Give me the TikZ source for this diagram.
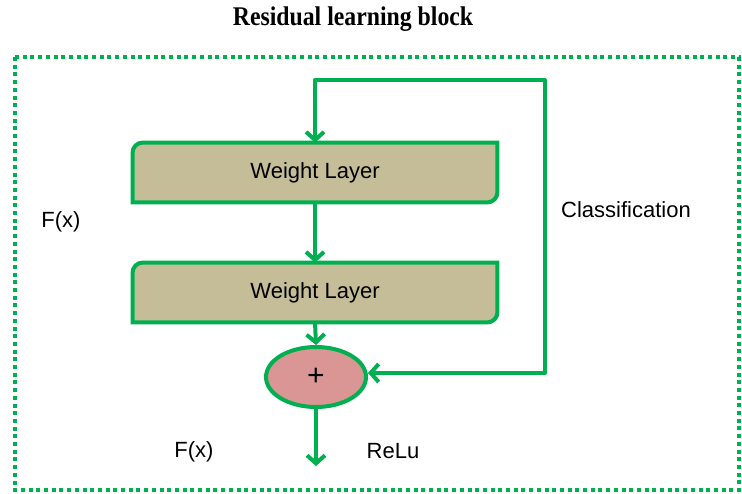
\documentclass[tikz,border=0pt]{standalone}
\usepackage{fontspec}
\setmainfont{Liberation Sans}
\newfontfamily\titlefont{Liberation Serif}
\usepackage{graphicx}
\usetikzlibrary{arrows.meta}
\usepgflibrary{shapes.geometric}
\definecolor{edgegreen}{RGB}{0,176,80}
\definecolor{layertan}{RGB}{196,189,151}
\definecolor{sumpink}{RGB}{217,150,148}

\begin{document}
\begin{tikzpicture}[x=0.5pt,y=-0.5pt,every node/.style = {font=\fontsize{11}{13}\selectfont, inner sep=0pt},green edge/.style = {line width=2pt, edgegreen, line join=round, -{Straight Barb[length=4pt,width=9pt]}},layer box/.style = {minimum width=182pt, minimum height=29.5pt},layer line/.style = {line width=2pt, draw=edgegreen, fill=layertan}]
\useasboundingbox (0,0) rectangle (742,493);
\node(0;0) at (353,19) {\titlefont\fontsize{13.5}{15}\bfseries\scalebox{0.88}[1]{Residual learning block}};
\draw[edgegreen, line width=2pt, dash pattern=on 2pt off 1.85pt] (15,57) rectangle (739,490);
  \node[layer box](1;0) at (315,172.5) {};
  \node[layer box](2;0) at (315,292.5) {};
\foreach \j in {1,2}
  { \draw[layer line] ([yshift=-5pt]\j;0.north west) arc[start angle=180,end angle=90,radius=5pt] -- (\j;0.north east) -- ([yshift=5pt]\j;0.south east) arc[start angle=0,end angle=-90,radius=5pt] -- (\j;0.south west) -- cycle;
    \node at (\j;0) {Weight Layer}; }
  \node[ellipse, draw=edgegreen, fill=sumpink, line width=2pt, minimum width=50pt, minimum height=30pt, font=\fontsize{15}{15}\selectfont](3;0) at (316,377) {+};
     \coordinate(loop) at (545,80);
     \coordinate(out) at (316,466);
\node(fx1) at (61,222) {F(x)};
\node(cls) at (626,210) {Classification};
\node(fx2) at (194,452) {F(x)};
\node(relu) at (393,451) {ReLu};
\draw[green edge] (1;0.south) -- (2;0.north);
\draw[green edge] (2;0.south) -- (3;0.north);
\draw[green edge] (3;0.south) -- (out);
\draw[green edge, {Straight Barb[length=4pt,width=9pt]}-{Straight Barb[length=4pt,width=9pt]}] (1;0.north) |- (loop) |- ([yshift=2pt]3;0.east);
\end{tikzpicture}
\end{document}
